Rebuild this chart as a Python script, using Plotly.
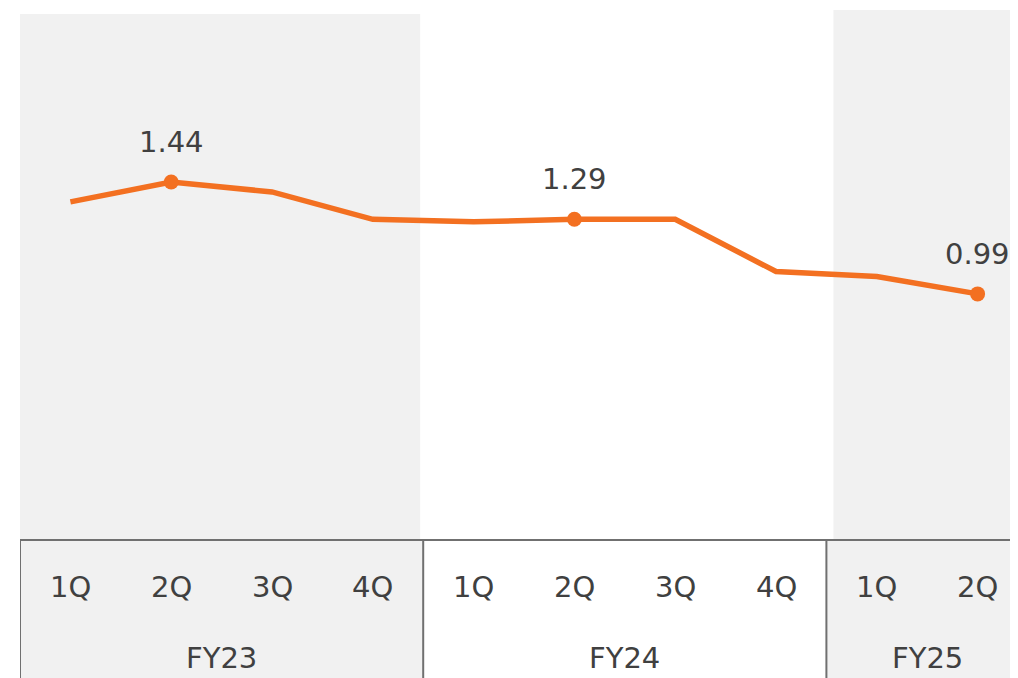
import plotly.graph_objects as go

quarters = ['1Q', '2Q', '3Q', '4Q', '1Q', '2Q', '3Q', '4Q', '1Q', '2Q']
fiscal_years = ['FY23', 'FY24', 'FY25']
fy_quarter_counts = [4, 4, 2]
values = [1.36, 1.44, 1.40, 1.29, 1.28, 1.29, 1.29, 1.08, 1.06, 0.99]
labeled_idx = [1, 5, 9]

ORANGE = '#F37021'
TEXT = '#404040'
GRAY = '#F1F1F1'
LINE = '#707070'
FONT = 'DejaVu Sans'

# the page body adds an 8px offset; the figure extends past the right edge
W, H = 1018, 670
PLOT_H = 532          # px from top of figure to the zero line
PX_PER_UNIT = 248.6
CAT_W = 100.8

x = list(range(len(values)))

fig = go.Figure()
fig.add_trace(go.Scatter(x=x, y=values, mode='lines',
                         line=dict(color=ORANGE, width=5.5), hoverinfo='skip'))
fig.add_trace(go.Scatter(x=[x[i] for i in labeled_idx], y=[values[i] for i in labeled_idx],
                         mode='markers', marker=dict(color=ORANGE, size=15), hoverinfo='skip'))

for i in labeled_idx:
    fig.add_annotation(x=x[i], y=values[i], xref='x', yref='y', text=f'{values[i]:.2f}',
                       showarrow=False, yshift=40, font=dict(family=FONT, size=29, color=TEXT))

shapes = []
# background shading for FY23 and FY25 in plot area
shapes.append(dict(type='rect', xref='x', yref='y', x0=-0.5, x1=3.47, y0=0, y1=2.116,
                   fillcolor=GRAY, line=dict(width=0), layer='below'))
shapes.append(dict(type='rect', xref='x', yref='y', x0=7.57, x1=11, y0=0, y1=2.132,
                   fillcolor=GRAY, line=dict(width=0), layer='below'))

# table below the axis
start = 0
for fy, n in zip(fiscal_years, fy_quarter_counts):
    x0 = start - 0.5
    x1 = start + n - 0.5
    if fy == 'FY25':
        x1 = 11
    if fy != 'FY24':
        shapes.append(dict(type='rect', xref='x', yref='paper', x0=x0, x1=x1, y0=-0.4, y1=0,
                           fillcolor=GRAY, line=dict(width=0), layer='below'))
    shapes.append(dict(type='line', xref='x', yref='paper', x0=x0, x1=x0, y0=-0.4, y1=0,
                       line=dict(color=LINE, width=2)))
    fig.add_annotation(x=start + (n - 1) / 2, y=-118 / PLOT_H, xref='x', yref='paper', text=fy,
                       showarrow=False, yanchor='middle',
                       font=dict(family=FONT, size=29, color=TEXT))
    start += n
shapes.append(dict(type='line', xref='x', yref='paper', x0=-0.5, x1=11, y0=0, y1=0,
                   line=dict(color=LINE, width=2)))

for i, q in enumerate(quarters):
    fig.add_annotation(x=x[i], y=-47 / PLOT_H, xref='x', yref='paper', text=q,
                       showarrow=False, yanchor='middle',
                       font=dict(family=FONT, size=29, color=TEXT))

fig.update_layout(
    width=W, height=H,
    margin=dict(l=12, r=0, t=0, b=H - PLOT_H),
    plot_bgcolor='white', paper_bgcolor='white',
    showlegend=False,
    shapes=shapes,
    xaxis=dict(range=[-0.5, -0.5 + (W - 12) / CAT_W], showgrid=False, zeroline=False,
               showticklabels=False, showline=False, fixedrange=True),
    yaxis=dict(range=[0, PLOT_H / PX_PER_UNIT], showgrid=False, zeroline=False,
               showticklabels=False, showline=False, fixedrange=True),
)

fig.write_html('out.html')
